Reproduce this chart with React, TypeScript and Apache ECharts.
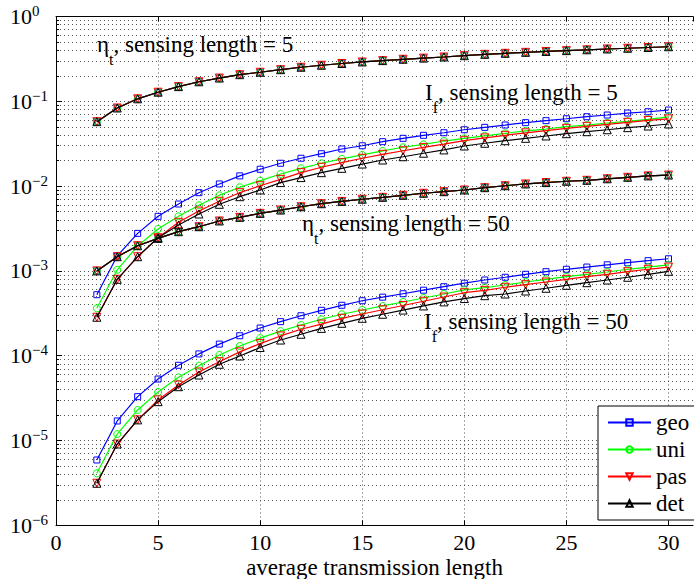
import React, { useEffect, useRef } from 'react';
import * as echarts from 'echarts';

// ---------- data ----------
const xValues = [2, 3, 4, 5, 6, 7, 8, 9, 10, 11, 12, 13, 14, 15, 16, 17, 18, 19, 20, 21, 22, 23, 24, 25, 26, 27, 28, 29, 30];

// eta_t, sensing length = 5 (all four schemes coincide)
const etaT5 = [0.0575, 0.0834, 0.107, 0.128, 0.149, 0.170, 0.188, 0.206, 0.220, 0.236, 0.252, 0.266, 0.279, 0.291, 0.302, 0.313, 0.323, 0.333, 0.345, 0.358, 0.368, 0.378, 0.387, 0.396, 0.405, 0.414, 0.422, 0.431, 0.440];
// eta_t, sensing length = 50 (all four schemes coincide)
const etaT50 = [0.00100, 0.00147, 0.00198, 0.00242, 0.00290, 0.00332, 0.00388, 0.00428, 0.00477, 0.00522, 0.00571, 0.00620, 0.00660, 0.00700, 0.00737, 0.00779, 0.00823, 0.00859, 0.00900, 0.00958, 0.0101, 0.0106, 0.0110, 0.0114, 0.0117, 0.0122, 0.0127, 0.0132, 0.0135];

// I_f, sensing length = 5
const iF5Geo = [0.000524, 0.00150, 0.00277, 0.00440, 0.00615, 0.00836, 0.0106, 0.0132, 0.0158, 0.0186, 0.0213, 0.0241, 0.0274, 0.0299, 0.0334, 0.0366, 0.0397, 0.0426, 0.0462, 0.0493, 0.0525, 0.0560, 0.0591, 0.0623, 0.0658, 0.0689, 0.0727, 0.0753, 0.0789];
const iF5Uni = [0.000362, 0.00103, 0.00197, 0.00312, 0.00440, 0.00594, 0.00779, 0.00968, 0.0116, 0.0139, 0.0162, 0.0186, 0.0209, 0.0233, 0.0260, 0.0287, 0.0311, 0.0340, 0.0365, 0.0392, 0.0419, 0.0447, 0.0471, 0.0502, 0.0525, 0.0555, 0.0581, 0.0613, 0.0655];
const iF5Pas = [0.000284, 0.000796, 0.00147, 0.00246, 0.00374, 0.00508, 0.00662, 0.00836, 0.0101, 0.0120, 0.0144, 0.0167, 0.0189, 0.0213, 0.0237, 0.0261, 0.0286, 0.0312, 0.0343, 0.0370, 0.0397, 0.0425, 0.0450, 0.0480, 0.0507, 0.0535, 0.0565, 0.0595, 0.0620];
const iF5Det = [0.000284, 0.000796, 0.00147, 0.00246, 0.00348, 0.00469, 0.00610, 0.00750, 0.00900, 0.0110, 0.0126, 0.0144, 0.0162, 0.0182, 0.0203, 0.0222, 0.0244, 0.0267, 0.0297, 0.0320, 0.0343, 0.0366, 0.0390, 0.0415, 0.0438, 0.0462, 0.0489, 0.0511, 0.0540];

// I_f, sensing length = 50
const iF50Geo = [5.89e-6, 1.70e-5, 3.29e-5, 5.31e-5, 7.71e-5, 1.05e-4, 1.37e-4, 1.72e-4, 2.12e-4, 2.52e-4, 2.96e-4, 3.43e-4, 3.93e-4, 4.45e-4, 4.90e-4, 5.38e-4, 5.92e-4, 6.51e-4, 7.16e-4, 7.81e-4, 8.41e-4, 9.12e-4, 9.79e-4, 1.045e-3, 1.11e-3, 1.18e-3, 1.25e-3, 1.32e-3, 1.39e-3];
const iF50Uni = [4.10e-6, 1.19e-5, 2.29e-5, 3.73e-5, 5.56e-5, 7.62e-5, 1.02e-4, 1.30e-4, 1.61e-4, 1.95e-4, 2.30e-4, 2.69e-4, 3.08e-4, 3.46e-4, 3.86e-4, 4.30e-4, 4.79e-4, 5.34e-4, 5.96e-4, 6.34e-4, 6.82e-4, 7.40e-4, 7.96e-4, 8.55e-4, 9.12e-4, 9.70e-4, 1.045e-3, 1.11e-3, 1.18e-3];
const iF50Pas = [3.13e-6, 9.09e-6, 1.75e-5, 3.01e-5, 4.51e-5, 6.43e-5, 8.49e-5, 1.11e-4, 1.39e-4, 1.71e-4, 2.05e-4, 2.36e-4, 2.76e-4, 3.10e-4, 3.48e-4, 3.91e-4, 4.39e-4, 4.92e-4, 5.53e-4, 5.90e-4, 6.41e-4, 6.88e-4, 7.40e-4, 7.96e-4, 8.55e-4, 9.12e-4, 9.79e-4, 1.045e-3, 1.11e-3];
const iF50Det = [3.13e-6, 9.09e-6, 1.75e-5, 2.87e-5, 4.31e-5, 5.92e-5, 7.92e-5, 9.91e-5, 1.25e-4, 1.53e-4, 1.79e-4, 2.10e-4, 2.41e-4, 2.76e-4, 3.08e-4, 3.45e-4, 3.86e-4, 4.31e-4, 4.72e-4, 5.10e-4, 5.34e-4, 5.79e-4, 6.24e-4, 6.76e-4, 7.26e-4, 7.81e-4, 8.41e-4, 9.12e-4, 9.89e-4];

const schemeNames = ['geo', 'uni', 'pas', 'det'];
const schemeData: number[][][] = [
  [etaT5, iF5Geo, etaT50, iF50Geo],
  [etaT5, iF5Uni, etaT50, iF50Uni],
  [etaT5, iF5Pas, etaT50, iF50Pas],
  [etaT5, iF5Det, etaT50, iF50Det],
];
const annotations = [
  { sym: 'η', sub: 't', rest: ', sensing length = 5', left: 97, top: 33 },
  { sym: 'I', sub: 'f', rest: ', sensing length = 5', left: 425, top: 81 },
  { sym: 'η', sub: 't', rest: ', sensing length = 50', left: 302, top: 212 },
  { sym: 'I', sub: 'f', rest: ', sensing length = 50', left: 424, top: 310 },
];
const xMin = 0;
const xMax = 31.2;
const xInterval = 5;
const yMin = 1e-6;
const yMax = 1;
const xAxisName = 'average transmission length';

// ---------- styles ----------
const SERIF = '"Liberation Serif", "Times New Roman", serif';
const colors = ['#0000ff', '#00ff00', '#ff0000', '#000000'];
const symbols = ['rect', 'circle', 'triangle', 'triangle'];
const symbolSizes = [6, 7, 8, 8];
const symbolRotates = [0, 0, 180, 0];
const gridColor = '#555';

export default function App() {
  const ref = useRef<HTMLDivElement>(null);
  useEffect(() => {
    if (!ref.current) return;
    const chart = echarts.init(ref.current, null, { renderer: 'svg' });

    const series: any[] = [];
    schemeData.forEach((groups, si) => {
      groups.forEach((arr) => {
        series.push({
          type: 'line',
          name: schemeNames[si],
          data: xValues.map((x, i) => [x, arr[i]]),
          symbol: symbols[si],
          symbolSize: symbolSizes[si],
          symbolRotate: symbolRotates[si],
          showAllSymbol: true,
          lineStyle: { color: colors[si], width: 1.2 },
          itemStyle: { color: 'rgba(255,255,255,0)', borderColor: colors[si], borderWidth: 1 },
          emphasis: { disabled: true },
          z: 3 + si,
        });
      });
    });

    const annRich = {
      a: { fontFamily: SERIF, fontSize: 23, lineHeight: 28, verticalAlign: 'top', fill: '#000' },
      s: { fontFamily: SERIF, fontSize: 16, lineHeight: 16, padding: [18, 0, 0, 0], verticalAlign: 'top', fill: '#000' },
    };

    const option: any = {
      animation: false,
      backgroundColor: '#fff',
      grid: { left: 56, right: 1, top: 16.5, bottom: 53.7, containLabel: false, outerBoundsMode: 'none' },
      legend: {
        data: schemeNames,
        orient: 'vertical',
        left: 598,
        top: 406,
        itemWidth: 43,
        itemHeight: 8,
        itemGap: 4,
        padding: [5, 8, 5, 9],
        backgroundColor: '#fff',
        borderColor: '#000',
        borderWidth: 1,
        borderRadius: 0,
        selectedMode: false,
        textStyle: { fontFamily: SERIF, fontSize: 23, color: '#000', lineHeight: 23 },
      },
      xAxis: [
        {
          type: 'value',
          min: xMin,
          max: xMax,
          interval: xInterval,
          name: xAxisName,
          nameLocation: 'middle',
          nameGap: 30,
          nameMoveOverlap: false,
          nameTextStyle: { fontFamily: SERIF, fontSize: 23, color: '#000', lineHeight: 24 },
          axisLine: { show: true, onZero: false, lineStyle: { color: '#000', width: 1 } },
          axisTick: { show: true, inside: true, length: 5, lineStyle: { color: '#000' } },
          axisLabel: {
            fontFamily: SERIF,
            fontSize: 22,
            color: '#000',
            margin: 6,
            showMaxLabel: false,
            formatter: (v: number) => (v % xInterval === 0 ? String(v) : ''),
          },
          splitLine: { show: true, showMinLine: false, showMaxLine: false, lineStyle: { type: [1, 3], color: gridColor, width: 1 } },
        },
        {
          type: 'value',
          position: 'top',
          min: xMin,
          max: xMax,
          interval: xInterval,
          axisLine: { show: true, onZero: false, lineStyle: { color: '#000', width: 1 } },
          axisTick: { show: true, inside: true, length: 5, lineStyle: { color: '#000' } },
          axisLabel: { show: false },
          splitLine: { show: false },
        },
      ],
      yAxis: {
        type: 'log',
        logBase: 10,
        min: yMin,
        max: yMax,
        splitNumber: 6,
        axisLine: { show: true, onZero: false, lineStyle: { color: '#000', width: 1 } },
        axisTick: { show: true, inside: true, length: 6, lineStyle: { color: '#000' } },
        minorTick: { show: true, splitNumber: 9, length: 3, lineStyle: { color: '#000' } },
        splitLine: { show: true, showMinLine: false, showMaxLine: false, lineStyle: { type: [1, 3], color: gridColor, width: 1 } },
        minorSplitLine: { show: true, lineStyle: { type: [1, 3], color: gridColor, width: 1 } },
        axisLabel: {
          margin: 6,
          formatter: (v: number) => {
            const e = Math.round(Math.log10(v));
            const es = e < 0 ? '\u2212' + String(-e) : String(e);
            return '{b|10}{e|' + es + '}';
          },
          rich: {
            b: { fontFamily: SERIF, fontSize: 22, color: '#000', lineHeight: 22, verticalAlign: 'bottom', align: 'left' },
            e: { fontFamily: SERIF, fontSize: 15, color: '#000', lineHeight: 15, padding: [0, 0, 9, 0], verticalAlign: 'bottom', align: 'left', width: 18 },
          },
        },
      },
      graphic: annotations.map((a) => ({
        type: 'text',
        left: a.left,
        top: a.top,
        z: 100,
        style: {
          text: '{a|' + a.sym + '}{s|' + a.sub + '}{a|' + a.rest + '}',
          rich: annRich,
          fill: '#000',
        },
      })),
      series,
    };
    chart.setOption(option);
    return () => chart.dispose();
  }, []);
  return <div ref={ref} style={{ position: 'fixed', left: 0, top: 0, width: 694, height: 579 }} />;
}
